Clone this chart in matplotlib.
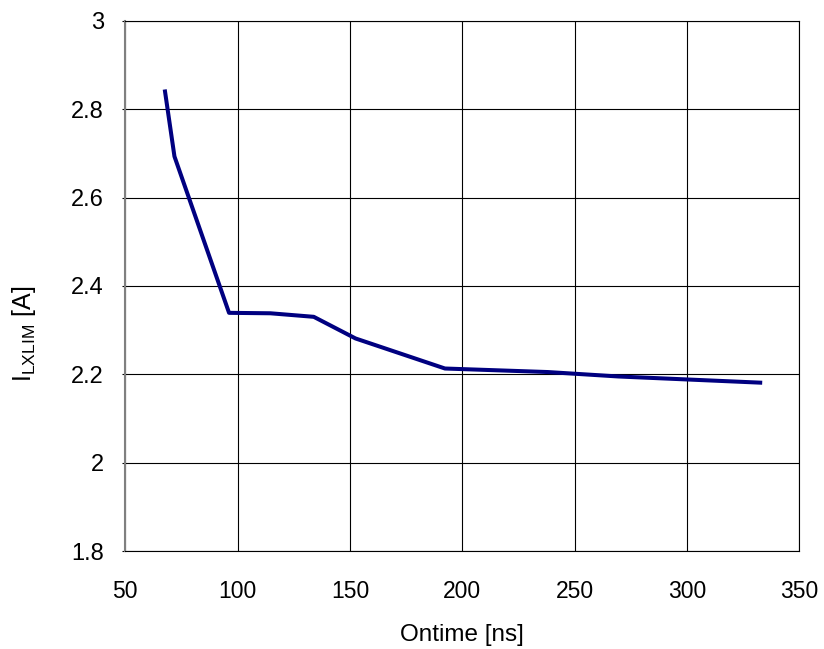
import numpy as np
import matplotlib.pyplot as plt

plt.rcParams['font.family'] = ['Liberation Sans', 'DejaVu Sans']
plt.rcParams['mathtext.fontset'] = 'custom'
plt.rcParams['mathtext.rm'] = 'Liberation Sans'

# Datos
ontime = [67.7, 71.9, 96.2, 114.6, 133.9, 152.5, 192.3, 238.1, 269.4, 332.6]
ilxlim = [2.840, 2.693, 2.339, 2.338, 2.330, 2.281, 2.213, 2.205, 2.195, 2.181]

x_ticks = [50, 100, 150, 200, 250, 300, 350]
y_ticks = [1.8, 2.0, 2.2, 2.4, 2.6, 2.8, 3.0]
y_labels = ['1.8', '2', '2.2', '2.4', '2.6', '2.8', '3']

fig = plt.figure(figsize=(8.24, 6.49), dpi=100)
ax = fig.add_axes([0.152, 0.151, 0.818, 0.817])

ax.plot(ontime, ilxlim, color='#000080', linewidth=2.9, zorder=3)

ax.set_xlim(50, 350)
ax.set_ylim(1.8, 3.0)
ax.set_xticks(x_ticks)
ax.set_yticks(y_ticks)
ax.set_yticklabels(y_labels)
ax.tick_params(axis='x', labelsize=16.5, length=0, pad=21)
ax.tick_params(axis='y', labelsize=17, direction='out', length=2.5, width=0.8, pad=13)
ax.grid(True, color='black', linewidth=0.8)
for s in ax.spines.values():
    s.set_color('black')
    s.set_linewidth(0.8)
ax.spines['left'].set_color('#808080')
ax.spines['left'].set_linewidth(1.5)

#? Etiquetas
fig.text(462 / 824, 1 - 635 / 649, 'Ontime [ns]', fontsize=17.5, ha='center', va='center')
fig.text(24 / 824, 1 - 334 / 649, r'I$_{\mathrm{LXLIM}}$ [A]', fontsize=18,
         ha='center', va='center', rotation=90)

fig.savefig('out.png', dpi=100)
